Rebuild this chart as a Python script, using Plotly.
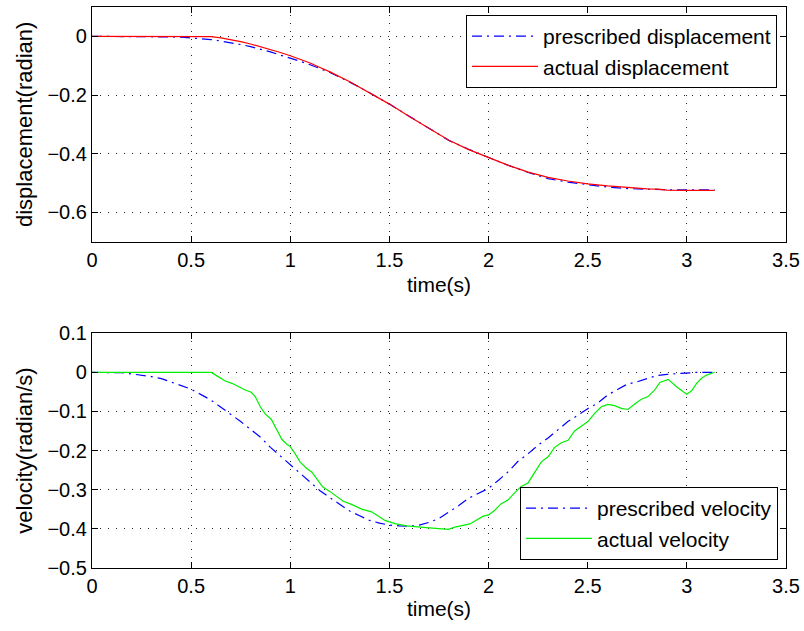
import plotly.graph_objects as go

# ---------------- data ----------------
t_pd = [0, 0.2, 0.3, 0.4, 0.45, 0.5, 0.55, 0.6, 0.65, 0.7, 0.75, 0.8, 0.85, 0.9, 0.95,
        1.0, 1.05, 1.1, 1.15, 1.2, 1.3, 1.4, 1.5, 1.6, 1.7, 1.8, 1.9, 2.0, 2.1, 2.2,
        2.3, 2.4, 2.5, 2.6, 2.7, 2.8, 2.9, 3.0, 3.1, 3.14]
prescribed_disp = [0, 0.0, -0.001, -0.002, -0.003, -0.005, -0.008, -0.011, -0.016, -0.021,
                   -0.028, -0.035, -0.043, -0.053, -0.064, -0.074, -0.085, -0.097, -0.11,
                   -0.123, -0.156, -0.192, -0.231, -0.272, -0.315, -0.355, -0.385, -0.412,
                   -0.44, -0.464, -0.485, -0.497, -0.506, -0.514, -0.519, -0.522, -0.523,
                   -0.5235, -0.5236, -0.5236]

t_ad = [0, 0.58, 0.6, 0.65, 0.7, 0.75, 0.8, 0.85, 0.9, 0.95, 1.0, 1.05, 1.1, 1.15, 1.2,
        1.3, 1.4, 1.5, 1.6, 1.7, 1.8, 1.9, 2.0, 2.1, 2.2, 2.3, 2.4, 2.5, 2.6, 2.7, 2.8,
        2.85, 2.9, 3.0, 3.14]
actual_disp = [0, 0, -0.001, -0.005, -0.011, -0.018, -0.026, -0.035, -0.045, -0.055,
               -0.066, -0.078, -0.091, -0.106, -0.121, -0.155, -0.192, -0.231, -0.273,
               -0.315, -0.354, -0.386, -0.412, -0.44, -0.463, -0.481, -0.493, -0.503,
               -0.51, -0.516, -0.52, -0.521, -0.524, -0.525, -0.525]

t_pv = [0, 0.1, 0.15, 0.2, 0.25, 0.3, 0.35, 0.4, 0.45, 0.5, 0.55, 0.6, 0.65, 0.7, 0.75,
        0.8, 0.85, 0.9, 0.95, 1.0, 1.05, 1.1, 1.15, 1.2, 1.25, 1.3, 1.35, 1.4, 1.45, 1.5,
        1.55, 1.6, 1.65, 1.7, 1.75, 1.8, 1.85, 1.9, 1.95, 2.0, 2.05, 2.1, 2.15, 2.2, 2.25,
        2.3, 2.35, 2.4, 2.45, 2.5, 2.55, 2.6, 2.65, 2.7, 2.75, 2.8, 2.85, 2.9, 2.95, 3.0,
        3.05, 3.14]
prescribed_vel = [0, 0, -0.001, -0.004, -0.007, -0.011, -0.016, -0.025, -0.033, -0.043,
                  -0.057, -0.071, -0.089, -0.107, -0.126, -0.146, -0.166, -0.192, -0.214,
                  -0.236, -0.259, -0.28, -0.303, -0.321, -0.339, -0.355, -0.367, -0.379,
                  -0.386, -0.391, -0.393, -0.394, -0.391, -0.384, -0.374, -0.358, -0.341,
                  -0.322, -0.31, -0.297, -0.276, -0.254, -0.227, -0.208, -0.186, -0.168,
                  -0.147, -0.126, -0.11, -0.093, -0.079, -0.058, -0.044, -0.03, -0.024,
                  -0.016, -0.008, -0.005, -0.003, -0.001, 0, 0]

t_av = [0, 0.602, 0.63, 0.672, 0.706, 0.74, 0.773, 0.803, 0.823, 0.849, 0.874, 0.904,
        0.933, 0.958, 0.983, 1.0, 1.024, 1.049, 1.083, 1.108, 1.133, 1.163, 1.197, 1.225,
        1.267, 1.309, 1.36, 1.41, 1.439, 1.478, 1.528, 1.587, 1.671, 1.738, 1.797, 1.83,
        1.864, 1.906, 1.94, 1.973, 2.0, 2.031, 2.064, 2.098, 2.132, 2.165, 2.199, 2.233,
        2.266, 2.3, 2.333, 2.367, 2.401, 2.434, 2.476, 2.501, 2.535, 2.569, 2.602, 2.636,
        2.67, 2.703, 2.737, 2.771, 2.804, 2.838, 2.864, 2.906, 2.948, 2.973, 2.999,
        3.024, 3.049, 3.074, 3.099, 3.133, 3.14]
actual_vel = [0, 0, -0.009, -0.022, -0.028, -0.037, -0.045, -0.051, -0.062, -0.088, -0.107,
              -0.12, -0.148, -0.172, -0.184, -0.19, -0.208, -0.229, -0.246, -0.255, -0.272,
              -0.293, -0.304, -0.315, -0.33, -0.338, -0.35, -0.357, -0.366, -0.379, -0.387,
              -0.393, -0.397, -0.4, -0.402, -0.396, -0.392, -0.388, -0.378, -0.368, -0.365,
              -0.353, -0.336, -0.327, -0.308, -0.292, -0.283, -0.255, -0.229, -0.216,
              -0.192, -0.18, -0.174, -0.15, -0.135, -0.126, -0.105, -0.088, -0.082, -0.085,
              -0.092, -0.095, -0.081, -0.069, -0.062, -0.045, -0.026, -0.018, -0.037,
              -0.047, -0.056, -0.047, -0.028, -0.015, -0.007, -0.001, 0]

x_ticks = [0, 0.5, 1, 1.5, 2, 2.5, 3, 3.5]
x_ticklabels = ["0", "0.5", "1", "1.5", "2", "2.5", "3", "3.5"]
y1_ticks = [0, -0.2, -0.4, -0.6]
y1_ticklabels = ["0", "\u22120.2", "\u22120.4", "\u22120.6"]
y2_ticks = [0.1, 0, -0.1, -0.2, -0.3, -0.4, -0.5]
y2_ticklabels = ["0.1", "0", "\u22120.1", "\u22120.2", "\u22120.3", "\u22120.4", "\u22120.5"]

# ---------------- figure ----------------
FONT = "Liberation Sans, Arial, Helvetica, sans-serif"
fig = go.Figure()

dashdot = "10px,5px,2px,5px"
fig.add_trace(go.Scatter(x=t_pd, y=prescribed_disp, mode="lines", name="prescribed displacement",
                         line=dict(color="#0000ff", width=1.2, dash=dashdot),
                         xaxis="x", yaxis="y", legend="legend"))
fig.add_trace(go.Scatter(x=t_ad, y=actual_disp, mode="lines", name="actual displacement",
                         line=dict(color="#ff0000", width=1.2),
                         xaxis="x", yaxis="y", legend="legend"))
fig.add_trace(go.Scatter(x=t_pv, y=prescribed_vel, mode="lines", name="prescribed velocity",
                         line=dict(color="#0000ff", width=1.2, dash=dashdot),
                         xaxis="x2", yaxis="y2", legend="legend2"))
fig.add_trace(go.Scatter(x=t_av, y=actual_vel, mode="lines", name="actual velocity",
                         line=dict(color="#00f000", width=1.2),
                         xaxis="x2", yaxis="y2", legend="legend2"))

W, H = 804, 631
xdom = [92 / W, 786 / W]
y1dom = [1 - 241.7 / H, 1 - 7 / H]
y2dom = [1 - 567.7 / H, 1 - 333.3 / H]

common_axis = dict(
    showline=True, linecolor="black", linewidth=1.2, mirror="ticks",
    ticks="inside", ticklen=6, tickwidth=1, tickcolor="black",
    showgrid=True, gridcolor="#222222", gridwidth=1, griddash="1px,7px",
    zeroline=False, automargin=False,
    tickfont=dict(family=FONT, size=20, color="black"),
)

fig.update_layout(
    width=W, height=H,
    margin=dict(l=0, r=0, t=0, b=0),
    paper_bgcolor="white", plot_bgcolor="white",
    font=dict(family=FONT, size=20, color="black"),
    xaxis=dict(domain=xdom, anchor="y", range=[0, 3.5], tickvals=x_ticks, ticktext=x_ticklabels,
               title=dict(text="time(s)", font=dict(size=21), standoff=7), **common_axis),
    yaxis=dict(domain=y1dom, anchor="x", range=[-0.7, 0.1], tickvals=y1_ticks,
               ticktext=y1_ticklabels,
               title=dict(text="displacement(radian)", font=dict(size=22), standoff=8),
               **common_axis),
    xaxis2=dict(domain=xdom, anchor="y2", range=[0, 3.5], tickvals=x_ticks, ticktext=x_ticklabels,
                title=dict(text="time(s)", font=dict(size=21), standoff=5), **common_axis),
    yaxis2=dict(domain=y2dom, anchor="x2", range=[-0.5, 0.1], tickvals=y2_ticks,
                ticktext=y2_ticklabels,
                title=dict(text="velocity(radian/s)", font=dict(size=22), standoff=8),
                **common_axis),
    legend=dict(x=777 / W, y=1 - 15 / H, xanchor="right", yanchor="top",
                bgcolor="white", bordercolor="black", borderwidth=1, itemwidth=66,
                font=dict(family=FONT, size=21, color="black"), tracegroupgap=0),
    legend2=dict(x=778 / W, y=1 - 560 / H, xanchor="right", yanchor="bottom",
                 bgcolor="white", bordercolor="black", borderwidth=1, itemwidth=66,
                 font=dict(family=FONT, size=21, color="black"), tracegroupgap=0),
    showlegend=True,
)

fig.write_html("out.html", config={"displayModeBar": False},
               post_script="document.body.style.margin='0px';")
